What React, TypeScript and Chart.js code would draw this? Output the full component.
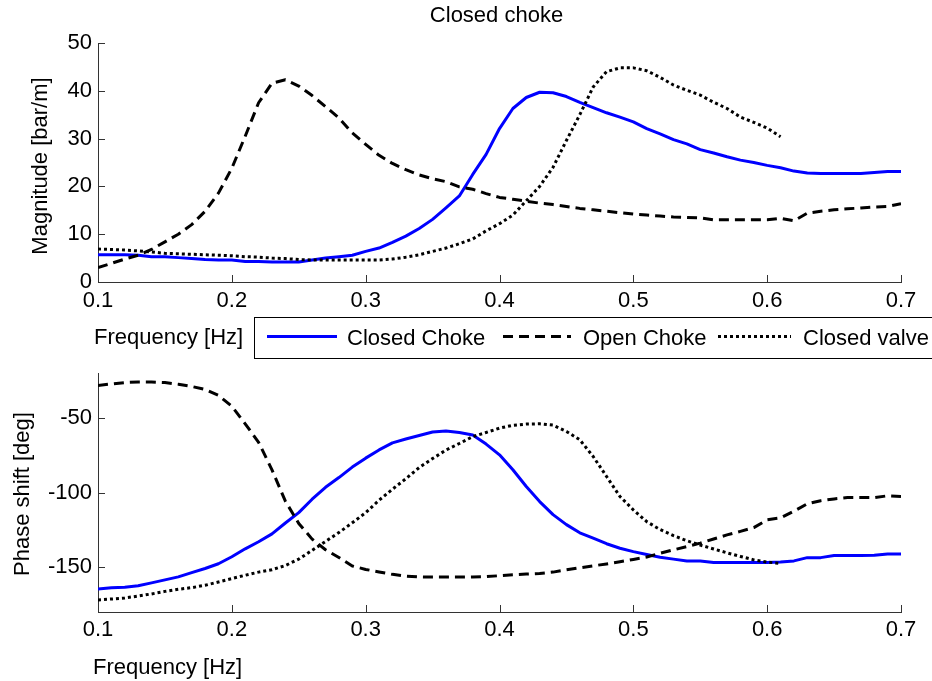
import React, { useEffect, useRef } from "react";
import { Chart, registerables } from "chart.js";

Chart.register(...registerables);

const FONT = "'Liberation Sans', Arial, Helvetica, sans-serif";
const AXIS_COLOR = "#333333";

// Frequency grid [Hz]
const FREQ = [
  0.10, 0.11, 0.12, 0.13, 0.14, 0.15, 0.16, 0.17, 0.18, 0.19,
  0.20, 0.21, 0.22, 0.23, 0.24, 0.25, 0.26, 0.27, 0.28, 0.29,
  0.30, 0.31, 0.32, 0.33, 0.34, 0.35, 0.36, 0.37, 0.38, 0.39,
  0.40, 0.41, 0.42, 0.43, 0.44, 0.45, 0.46, 0.47, 0.48, 0.49,
  0.50, 0.51, 0.52, 0.53, 0.54, 0.55, 0.56, 0.57, 0.58, 0.59,
  0.60, 0.61, 0.62, 0.63, 0.64, 0.65, 0.66, 0.67, 0.68, 0.69, 0.70,
];

const FREQ_TICKS = [0.1, 0.2, 0.3, 0.4, 0.5, 0.6, 0.7];
const MAG_TICKS = [0, 10, 20, 30, 40, 50];
const PHASE_TICKS = [-150, -100, -50];

const SERIES_NAMES = ["Closed Choke", "Open Choke", "Closed valve"];

// Magnitude [bar/m]
const CLOSED_CHOKE_MAG = [
  5.7, 5.7, 5.7, 5.6, 5.3, 5.3, 5.1, 4.9, 4.7, 4.6,
  4.6, 4.3, 4.3, 4.2, 4.2, 4.2, 4.6, 5.0, 5.3, 5.6,
  6.4, 7.1, 8.3, 9.6, 11.2, 13.1, 15.5, 18.0, 22.5, 26.7,
  32.1, 36.3, 38.6, 39.7, 39.6, 38.8, 37.6, 36.5, 35.4, 34.5,
  33.5, 32.1, 31.0, 29.8, 28.9, 27.7, 27.0, 26.2, 25.5, 25.0,
  24.4, 23.9, 23.2, 22.8, 22.7, 22.7, 22.7, 22.7, 22.9, 23.1, 23.1,
];
const OPEN_CHOKE_MAG = [
  3.0, 3.9, 4.8, 5.6, 6.8, 8.4, 10.0, 12.0, 14.8, 18.6,
  23.8, 30.5, 37.5, 41.6, 42.3, 41.0, 39.0, 36.7, 34.3, 31.2,
  28.8, 26.5, 24.8, 23.5, 22.4, 21.6, 21.0, 19.9, 19.4, 18.5,
  17.7, 17.3, 16.9, 16.5, 16.2, 15.8, 15.4, 15.1, 14.8, 14.5,
  14.2, 14.0, 13.8, 13.6, 13.5, 13.4, 13.0, 13.0, 13.0, 13.0,
  13.0, 13.3, 12.8, 14.4, 14.8, 15.1, 15.3, 15.5, 15.7, 15.8, 16.4,
];
const CLOSED_VALVE_MAG = [
  6.9, 6.8, 6.7, 6.5, 6.3, 6.0, 5.9, 5.8, 5.7, 5.6,
  5.5, 5.3, 5.2, 5.0, 4.9, 4.7, 4.6, 4.6, 4.6, 4.6,
  4.6, 4.6, 4.8, 5.2, 5.7, 6.4, 7.1, 8.0, 9.0, 10.7,
  12.2, 14.0, 17.0, 20.0, 24.0, 29.6, 35.0, 40.8, 44.0, 44.8,
  44.8, 44.2, 42.8, 41.2, 40.1, 39.1, 37.6, 36.3, 34.5, 33.4,
  32.2, 30.4,
];

// Phase shift [deg]
const CLOSED_CHOKE_PHASE = [
  -164.6, -163.7, -163.5, -162.4, -160.5, -158.5, -156.5, -153.6, -150.9, -147.7,
  -143.0, -137.7, -133.0, -127.7, -120.4, -113.5, -104.5, -96.5, -90.0, -83.0,
  -77.0, -71.5, -66.8, -64.2, -61.8, -59.5, -58.8, -59.8, -61.5, -67.6,
  -74.8, -84.8, -96.0, -106.1, -114.8, -121.5, -127.0, -130.6, -134.3, -137.3,
  -139.6, -141.5, -143.3, -144.6, -145.8, -145.8, -146.9, -146.9, -146.9, -146.9,
  -146.9, -146.6, -145.8, -143.6, -143.6, -142.2, -142.2, -142.2, -142.0, -141.1, -141.1,
];
const OPEN_CHOKE_PHASE = [
  -28.3, -27.3, -26.4, -26.0, -26.0, -26.4, -27.5, -29.0, -31.0, -35.0,
  -42.3, -54.0, -66.4, -84.8, -105.8, -120.7, -131.2, -138.3, -143.5, -149.2,
  -151.5, -153.2, -154.8, -156.0, -156.5, -156.6, -156.6, -156.6, -156.5, -156.3,
  -155.7, -155.1, -154.6, -154.2, -153.3, -151.8, -150.4, -149.1, -147.8, -146.4,
  -144.8, -143.2, -140.7, -138.4, -136.2, -133.9, -131.1, -128.4, -126.0, -123.5,
  -118.3, -117.0, -112.5, -107.5, -105.5, -104.3, -103.4, -103.4, -103.4, -102.2, -102.7,
];
const CLOSED_VALVE_PHASE = [
  -171.9, -171.3, -170.6, -169.3, -167.9, -166.2, -164.8, -163.7, -162.1, -159.9,
  -157.6, -155.4, -153.3, -151.7, -148.9, -144.6, -138.7, -132.8, -126.8, -120.3,
  -113.5, -105.2, -97.8, -90.8, -83.3, -77.3, -71.6, -67.2, -62.6, -59.8,
  -56.9, -55.0, -54.2, -54.0, -54.9, -59.1, -64.7, -75.9, -89.3, -102.7,
  -111.6, -119.5, -124.8, -128.9, -132.3, -135.2, -137.8, -140.4, -142.8, -145.1,
  -146.6, -147.5,
];

// Line styles, in the same order as SERIES_NAMES
const SERIES_STYLES = [
  { color: "#0000ff", dash: [] as number[] },
  { color: "#000000", dash: [10, 6] },
  { color: "#000000", dash: [3, 3] },
];

function buildDatasets(values: number[][]) {
  return SERIES_NAMES.map((name, i) => ({
    label: name,
    data: values[i].map((v, k) => ({ x: FREQ[k], y: v })),
    borderColor: SERIES_STYLES[i].color,
    borderDash: SERIES_STYLES[i].dash,
    borderWidth: 3,
    borderJoinStyle: "round" as const,
    borderCapStyle: "butt" as const,
    pointRadius: 0,
    tension: 0,
    fill: false,
    order: SERIES_NAMES.length - i,
  }));
}

type PanelOpts = {
  yMin: number;
  yMax: number;
  yTicks: number[];
  xAxisHeight: number;
  xTickPadding: number;
  padTop: number;
};

function drawText(ctx: CanvasRenderingContext2D, text: string, x: number, y: number, align: CanvasTextAlign = "left") {
  ctx.textAlign = align;
  ctx.textBaseline = "alphabetic";
  ctx.fillText(text, x, y);
}

// Inward tick marks plus the axis titles of a panel
function panelDecor(id: string, yTicks: number[], extra: (chart: Chart) => void) {
  return {
    id,
    afterDraw(chart: Chart) {
      const { ctx, chartArea, scales } = chart as any;
      ctx.save();
      ctx.strokeStyle = AXIS_COLOR;
      ctx.lineWidth = 1;
      ctx.beginPath();
      for (const v of FREQ_TICKS) {
        const px = Math.round(scales.x.getPixelForValue(v)) + 0.5;
        ctx.moveTo(px, chartArea.bottom);
        ctx.lineTo(px, chartArea.bottom - 7);
      }
      for (const v of yTicks) {
        const py = Math.round(scales.y.getPixelForValue(v)) + 0.5;
        ctx.moveTo(chartArea.left, py);
        ctx.lineTo(chartArea.left + 7, py);
      }
      ctx.stroke();
      ctx.fillStyle = "#000";
      ctx.font = `22px ${FONT}`;
      extra(chart);
      ctx.restore();
    },
  };
}

function makeConfig(values: number[][], p: PanelOpts, plugin: any): any {
  return {
    type: "line",
    data: { datasets: buildDatasets(values) },
    options: {
      responsive: false,
      maintainAspectRatio: false,
      animation: false,
      events: [],
      layout: { padding: { top: p.padTop, right: 31, bottom: 0, left: 0 } },
      plugins: {
        legend: { display: false },
        tooltip: { enabled: false },
        title: { display: false },
      },
      scales: {
        x: {
          type: "linear",
          min: FREQ_TICKS[0],
          max: FREQ_TICKS[FREQ_TICKS.length - 1],
          afterBuildTicks: (s: any) => {
            s.ticks = FREQ_TICKS.map((v) => ({ value: v }));
          },
          afterFit: (s: any) => {
            s.height = p.xAxisHeight;
            s.paddingLeft = 0;
            s.paddingRight = 0;
          },
          grid: { display: false, drawTicks: false, tickLength: 0 },
          border: { display: true, color: AXIS_COLOR, width: 1 },
          ticks: {
            color: "#000",
            font: { family: FONT, size: 22 },
            padding: p.xTickPadding,
            maxRotation: 0,
            autoSkip: false,
            callback: (v: any) => Number(v).toFixed(1),
          },
        },
        y: {
          type: "linear",
          min: p.yMin,
          max: p.yMax,
          afterBuildTicks: (s: any) => {
            s.ticks = p.yTicks.map((v) => ({ value: v }));
          },
          afterFit: (s: any) => {
            s.width = 98;
            s.paddingTop = 0;
            s.paddingBottom = 0;
          },
          grid: { display: false, drawTicks: false, tickLength: 0 },
          border: { display: true, color: AXIS_COLOR, width: 1 },
          ticks: {
            color: "#000",
            font: { family: FONT, size: 22 },
            padding: 6,
            autoSkip: false,
            callback: (v: any) => String(v),
          },
        },
      },
    },
    plugins: [plugin],
  };
}

function drawRotated(ctx: CanvasRenderingContext2D, text: string, x: number, y: number) {
  ctx.save();
  ctx.translate(x, y);
  ctx.rotate(-Math.PI / 2);
  ctx.textAlign = "center";
  ctx.textBaseline = "alphabetic";
  ctx.fillText(text, 0, 0);
  ctx.restore();
}

export default function App() {
  const magRef = useRef<HTMLCanvasElement>(null);
  const phaseRef = useRef<HTMLCanvasElement>(null);

  useEffect(() => {
    document.body.style.margin = "0";

    const magDecor = panelDecor("magDecor", MAG_TICKS, (chart) => {
      const { ctx, chartArea } = chart as any;
      // title
      drawText(ctx, "Closed choke", (chartArea.left + chartArea.right) / 2 - 3, 22, "center");
      // axis labels
      drawRotated(ctx, "Magnitude [bar/m]", 47, 166);
      drawText(ctx, "Frequency [Hz]", 94, 344);
      // legend box
      ctx.strokeStyle = "#000";
      ctx.lineWidth = 1;
      ctx.strokeRect(254.5, 317.5, 700, 41);
      const items = [
        { from: 267, to: 337, textX: 347 },
        { from: 503, to: 571, textX: 583 },
        { from: 718, to: 791, textX: 803 },
      ];
      const ds = chart.data.datasets as any[];
      items.forEach((it, i) => {
        ctx.save();
        ctx.strokeStyle = ds[i].borderColor;
        ctx.lineWidth = ds[i].borderWidth;
        ctx.setLineDash(ds[i].borderDash);
        ctx.beginPath();
        ctx.moveTo(it.from, 336.5);
        ctx.lineTo(it.to, 336.5);
        ctx.stroke();
        ctx.restore();
        drawText(ctx, ds[i].label, it.textX, 345);
      });
    });

    const phaseDecor = panelDecor("phaseDecor", PHASE_TICKS, (chart) => {
      const { ctx } = chart as any;
      drawRotated(ctx, "Phase shift [deg]", 28.5, 134);
      drawText(ctx, "Frequency [Hz]", 93, 314);
    });

    const mag = new Chart(
      magRef.current!,
      makeConfig(
        [CLOSED_CHOKE_MAG, OPEN_CHOKE_MAG, CLOSED_VALVE_MAG],
        { yMin: 0, yMax: 50, yTicks: MAG_TICKS, xAxisHeight: 78, xTickPadding: 6, padTop: 43 },
        magDecor
      )
    );
    const phase = new Chart(
      phaseRef.current!,
      makeConfig(
        [CLOSED_CHOKE_PHASE, OPEN_CHOKE_PHASE, CLOSED_VALVE_PHASE],
        { yMin: -180, yMax: -20, yTicks: PHASE_TICKS, xAxisHeight: 69, xTickPadding: 5, padTop: 13 },
        phaseDecor
      )
    );
    return () => {
      mag.destroy();
      phase.destroy();
    };
  }, []);

  return (
    <div style={{ position: "relative", width: 932, height: 681, background: "#fff", overflow: "hidden" }}>
      <canvas ref={magRef} width={932} height={360} style={{ position: "absolute", left: 0, top: 0 }} />
      <canvas ref={phaseRef} width={932} height={321} style={{ position: "absolute", left: 0, top: 360 }} />
    </div>
  );
}
